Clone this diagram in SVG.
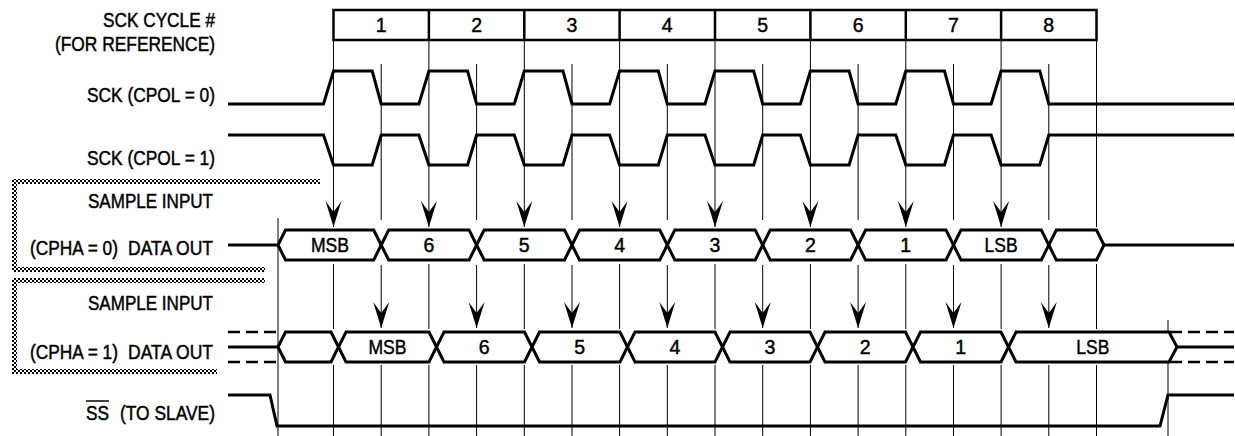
<svg xmlns="http://www.w3.org/2000/svg" width="1235" height="436" viewBox="0 0 1235 436">
<style>
text{font-family:"Liberation Sans",Arial,sans-serif;font-size:19.5px;fill:#000;stroke:#000;stroke-width:0.45}
.c{text-anchor:middle}
.wave{fill:none;stroke:#000;stroke-width:3;stroke-linejoin:miter}
.bub{fill:#fff;stroke:#000;stroke-width:3;stroke-linejoin:miter}
.dash{fill:none;stroke:#000;stroke-width:2.5;stroke-dasharray:12 6}
.grid{fill:none;stroke:#000;stroke-width:1}
.arr{fill:none;stroke:#000;stroke-width:1;marker-end:url(#arr)}
.box{fill:#fff;stroke:#000;stroke-width:2.5}
.hatch{fill:url(#hatch)}
</style>
<defs>
<pattern id="hatch" width="4" height="4" patternUnits="userSpaceOnUse">
<rect width="2" height="2" fill="#000"/><rect x="2" y="2" width="2" height="2" fill="#000"/><rect x="1" y="1" width="1" height="1" fill="#000"/><rect x="3" y="3" width="1" height="1" fill="#000"/>
</pattern>
<marker id="arr" markerUnits="userSpaceOnUse" markerWidth="30" markerHeight="20" viewBox="-28 -10 30 20" refX="0" refY="0" orient="auto">
<path d="M0,0 L-26,-8 L-15,0 L-26,8 Z" fill="#000"/>
</marker>
</defs>
<rect width="1235" height="436" fill="#fff"/>

<g id="brackets">
<rect class="hatch" x="12" y="179" width="308" height="5"/>
<rect class="hatch" x="12" y="179" width="5" height="93"/>
<rect class="hatch" x="12" y="267" width="253" height="5"/>
<rect class="hatch" x="12" y="278" width="253" height="5"/>
<rect class="hatch" x="12" y="278" width="5" height="96"/>
<rect class="hatch" x="12" y="369" width="205" height="5"/>
</g>

<g id="labels">
<text x="103" y="27" textLength="112" lengthAdjust="spacingAndGlyphs">SCK CYCLE #</text>
<text x="55" y="51" textLength="160" lengthAdjust="spacingAndGlyphs">(FOR REFERENCE)</text>
<text x="87" y="102" textLength="128" lengthAdjust="spacingAndGlyphs">SCK (CPOL = 0)</text>
<text x="87" y="165" textLength="128" lengthAdjust="spacingAndGlyphs">SCK (CPOL = 1)</text>
<text x="88" y="208" textLength="125" lengthAdjust="spacingAndGlyphs">SAMPLE INPUT</text>
<text x="30" y="255" textLength="88" lengthAdjust="spacingAndGlyphs">(CPHA = 0)</text>
<text x="128" y="255" textLength="85" lengthAdjust="spacingAndGlyphs">DATA OUT</text>
<text x="88" y="310" textLength="125" lengthAdjust="spacingAndGlyphs">SAMPLE INPUT</text>
<text x="30" y="359" textLength="88" lengthAdjust="spacingAndGlyphs">(CPHA = 1)</text>
<text x="128" y="359" textLength="85" lengthAdjust="spacingAndGlyphs">DATA OUT</text>
<text x="86" y="420" textLength="23" lengthAdjust="spacingAndGlyphs">SS</text>
<line x1="86" y1="401" x2="109" y2="401" stroke="#000" stroke-width="1.5"/>
<text x="120" y="420" textLength="95" lengthAdjust="spacingAndGlyphs">(TO SLAVE)</text>
</g>

<g id="connectors">
<line class="arr" x1="333.5" y1="40" x2="333.5" y2="227"/>
<line class="arr" x1="428.9" y1="40" x2="428.9" y2="227"/>
<line class="arr" x1="524.3" y1="40" x2="524.3" y2="227"/>
<line class="arr" x1="619.6" y1="40" x2="619.6" y2="227"/>
<line class="arr" x1="715" y1="40" x2="715" y2="227"/>
<line class="arr" x1="810.4" y1="40" x2="810.4" y2="227"/>
<line class="arr" x1="905.8" y1="40" x2="905.8" y2="227"/>
<line class="arr" x1="1001.1" y1="40" x2="1001.1" y2="227"/>
<path class="grid" d="M1096.5,40V227"/>
<path class="grid" d="M333.5,264V329 M428.9,264V329 M524.3,264V329 M619.6,264V329 M715,264V329 M810.4,264V329 M905.8,264V329 M1001.1,264V329 M1096.5,264V329"/>
<path class="grid" d="M333.5,365V436 M428.9,365V436 M524.3,365V436 M619.6,365V436 M715,365V436 M810.4,365V436 M905.8,365V436 M1001.1,365V436 M1096.5,365V436"/>
<path class="grid" d="M381.2,64V220 M476.6,64V220 M572,64V220 M667.3,64V220 M762.7,64V220 M858.1,64V220 M953.5,64V220 M1048.8,64V220"/>
<line class="arr" x1="381.2" y1="265" x2="381.2" y2="328"/>
<line class="arr" x1="476.6" y1="265" x2="476.6" y2="328"/>
<line class="arr" x1="572" y1="265" x2="572" y2="328"/>
<line class="arr" x1="667.3" y1="265" x2="667.3" y2="328"/>
<line class="arr" x1="762.7" y1="265" x2="762.7" y2="328"/>
<line class="arr" x1="858.1" y1="265" x2="858.1" y2="328"/>
<line class="arr" x1="953.5" y1="265" x2="953.5" y2="328"/>
<line class="arr" x1="1048.8" y1="265" x2="1048.8" y2="328"/>
<path class="grid" d="M381.2,365V436 M476.6,365V436 M572,365V436 M667.3,365V436 M762.7,365V436 M858.1,365V436 M953.5,365V436 M1048.8,365V436"/>
<path class="grid" d="M278,218V436 M1168,320V436"/>
</g>

<g id="cycle-boxes">
<rect class="box" x="333.5" y="10" width="763" height="30"/>
<path class="grid" style="stroke-width:2.5" d="M428.9,10V40 M524.3,10V40 M619.6,10V40 M715,10V40 M810.4,10V40 M905.8,10V40 M1001.1,10V40"/>
<text class="c" x="381.2" y="32">1</text>
<text class="c" x="476.6" y="32">2</text>
<text class="c" x="572" y="32">3</text>
<text class="c" x="667.3" y="32">4</text>
<text class="c" x="762.7" y="32">5</text>
<text class="c" x="858.1" y="32">6</text>
<text class="c" x="953.5" y="32">7</text>
<text class="c" x="1048.8" y="32">8</text>
</g>

<g id="sck-cpol0">
<path class="wave" d="M228,104 L323.5,104 L333.5,71 L372.2,71 L381.2,104 L418.9,104 L428.9,71 L467.6,71 L476.6,104 L514.3,104 L524.3,71 L563,71 L572,104 L609.6,104 L619.6,71 L658.3,71 L667.3,104 L705,104 L715,71 L753.7,71 L762.7,104 L800.4,104 L810.4,71 L849.1,71 L858.1,104 L895.8,104 L905.8,71 L944.5,71 L953.5,104 L991.1,104 L1001.1,71 L1039.8,71 L1048.8,104 L1234,104"/>
</g>

<g id="sck-cpol1">
<path class="wave" d="M228,135 L323.5,135 L333.5,165 L372.2,165 L381.2,135 L418.9,135 L428.9,165 L467.6,165 L476.6,135 L514.3,135 L524.3,165 L563,165 L572,135 L609.6,135 L619.6,165 L658.3,165 L667.3,135 L705,135 L715,165 L753.7,165 L762.7,135 L800.4,135 L810.4,165 L849.1,165 L858.1,135 L895.8,135 L905.8,165 L944.5,165 L953.5,135 L991.1,135 L1001.1,165 L1039.8,165 L1048.8,135 L1234,135"/>
</g>

<g id="data-cpha0">
<path class="wave" d="M228,245H278 M1104,245H1234"/>
<polygon class="bub" points="278,245 285.5,230 373.7,230 381.2,245 373.7,260 285.5,260"/>
<polygon class="bub" points="381.2,245 388.7,230 469.1,230 476.6,245 469.1,260 388.7,260"/>
<polygon class="bub" points="476.6,245 484.1,230 564.5,230 572,245 564.5,260 484.1,260"/>
<polygon class="bub" points="572,245 579.5,230 659.8,230 667.3,245 659.8,260 579.5,260"/>
<polygon class="bub" points="667.3,245 674.8,230 755.2,230 762.7,245 755.2,260 674.8,260"/>
<polygon class="bub" points="762.7,245 770.2,230 850.6,230 858.1,245 850.6,260 770.2,260"/>
<polygon class="bub" points="858.1,245 865.6,230 946,230 953.5,245 946,260 865.6,260"/>
<polygon class="bub" points="953.5,245 961,230 1041.3,230 1048.8,245 1041.3,260 961,260"/>
<polygon class="bub" points="1048.8,245 1056.3,230 1096.5,230 1104,245 1096.5,260 1056.3,260"/>
<text x="311" y="252" textLength="38" lengthAdjust="spacingAndGlyphs">MSB</text>
<text class="c" x="428.9" y="252">6</text>
<text class="c" x="524.3" y="252">5</text>
<text class="c" x="619.6" y="252">4</text>
<text class="c" x="715" y="252">3</text>
<text class="c" x="810.4" y="252">2</text>
<text class="c" x="905.8" y="252">1</text>
<text x="984.6" y="252" textLength="33" lengthAdjust="spacingAndGlyphs">LSB</text>
</g>

<g id="data-cpha1">
<path class="wave" d="M228,347H278 M1177,347H1234"/>
<path class="dash" d="M228,332H278 M228,362H278 M1170,332H1234 M1170,362H1234"/>
<polygon class="bub" points="278,347 285.5,332 331,332 338.5,347 331,362 285.5,362"/>
<polygon class="bub" points="338.5,347 346,332 429,332 436.5,347 429,362 346,362"/>
<polygon class="bub" points="436.5,347 444,332 524.5,332 532,347 524.5,362 444,362"/>
<polygon class="bub" points="532,347 539.5,332 620,332 627.5,347 620,362 539.5,362"/>
<polygon class="bub" points="627.5,347 635,332 715,332 722.5,347 715,362 635,362"/>
<polygon class="bub" points="722.5,347 730,332 810,332 817.5,347 810,362 730,362"/>
<polygon class="bub" points="817.5,347 825,332 905.5,332 913,347 905.5,362 825,362"/>
<polygon class="bub" points="913,347 920.5,332 1001,332 1008.5,347 1001,362 920.5,362"/>
<polygon class="bub" points="1008.5,347 1016,332 1169,332 1177,347 1169,362 1016,362"/>
<text x="368.5" y="354" textLength="38" lengthAdjust="spacingAndGlyphs">MSB</text>
<text class="c" x="484.3" y="354">6</text>
<text class="c" x="579.8" y="354">5</text>
<text class="c" x="675" y="354">4</text>
<text class="c" x="770" y="354">3</text>
<text class="c" x="865.3" y="354">2</text>
<text class="c" x="960.8" y="354">1</text>
<text x="1076.3" y="354" textLength="33" lengthAdjust="spacingAndGlyphs">LSB</text>
</g>

<g id="ss">
<path class="wave" d="M228,395 L270,395 L277,426 L1160,426 L1168,395 L1234,395"/>
</g>
</svg>
